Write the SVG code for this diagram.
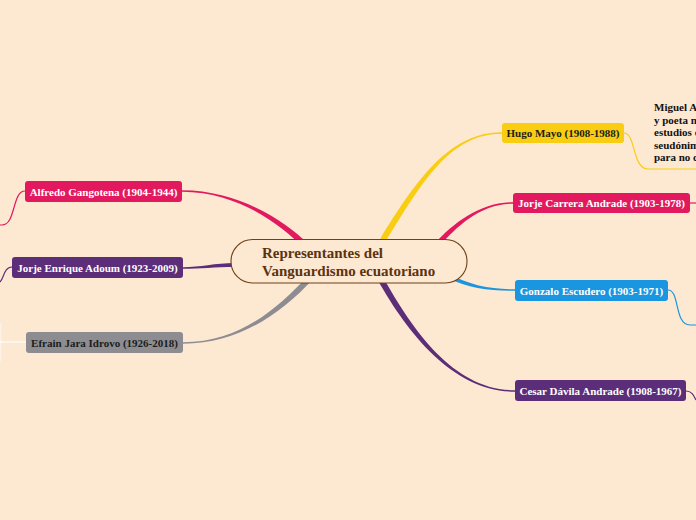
<svg xmlns="http://www.w3.org/2000/svg" width="696" height="520" viewBox="0 0 696 520">
<style>
.lbl{font-family:"Liberation Serif","Times New Roman",serif;font-weight:bold;font-size:11px;text-anchor:middle}
.w{fill:#ffffff}
.d{fill:#1c1c1c}
.note{font-family:"Liberation Serif","Times New Roman",serif;font-weight:bold;font-size:11px;fill:#111111}
.thin{fill:none;stroke-width:1.2}
.ctr{font-family:"Liberation Serif","Times New Roman",serif;font-weight:bold;font-size:15px;fill:#5c3310}
</style>
<rect x="0" y="0" width="696" height="520" fill="#fde8d2"/>
<g id="connectors">
  <path d="M385.6,241.6 C422.6,181.6 450,133.75 502,133.75 L502,132.25 C450,132.25 417.4,178.4 380.4,238.4 Z" fill="#f8cd12"/>
  <path d="M438.9,246.7 C456.9,226.7 480,203.75 513,203.75 L513,202.25 C480,202.25 453.1,223.3 435.1,243.3 Z" fill="#e2195e"/>
  <path d="M447.1,277.8 C469.1,288.8 490,290.75 515,290.75 L515,289.25 C490,289.25 470.9,285.2 448.9,274.2 Z" fill="#1a96e0"/>
  <path d="M377.4,279.5 C409.4,336.5 455,391.75 515,391.75 L515,390.25 C455,390.25 414.6,333.5 382.6,276.5 Z" fill="#5c2d78"/>
  <path d="M307.1,242.9 C287.1,222.9 240,190.25 182,190.25 L182,191.75 C240,191.75 282.9,227.1 302.9,247.1 Z" fill="#e2195e"/>
  <path d="M235,263 C215,263 200,267.25 183,267.25 L183,268.75 C200,268.75 215,267 235,267 Z" fill="#5c2d78"/>
  <path d="M312.2,280 C282.2,312.1 240,343.75 183,343.75 L183,342.25 C240,342.25 277.8,307.9 307.8,275.9 Z" fill="#8d8d91"/>
  <path class="thin" d="M624,133 C636,133 632,169 648,169 L696,169" stroke="#f8cd12"/>
  <path class="thin" d="M690,203 L696,203" stroke="#e2195e"/>
  <path class="thin" d="M668,290 C680,290 674,325 690,325 L696,325" stroke="#1a96e0"/>
  <path class="thin" d="M686,391 C692,391 694,396 696,400" stroke="#5c2d78"/>
  <path class="thin" d="M25,191 C12,191 16,225 2,225 L0,225" stroke="#e2195e"/>
  <path class="thin" d="M12,267 C4,267 4,278 0,282" stroke="#5c2d78"/>
  <path class="thin" d="M26,342 L0,342" stroke="#ffffff"/>
</g>
<rect x="-20" y="322" width="21.5" height="40" rx="3" fill="#ffffff" fill-opacity="0.45"/>
<g id="central">
  <rect x="231" y="239.5" width="236" height="43.5" rx="21.5" fill="#fde8d2" stroke="#6e4118" stroke-width="1.1"/>
  <text class="ctr" x="262" y="258">Representantes del</text>
  <text class="ctr" x="262" y="276">Vanguardismo ecuatoriano</text>
</g>
<g id="hugo">
  <rect x="502" y="123" width="122" height="20" rx="3" fill="#f8cd12"/>
  <text class="lbl d" x="563" y="137">Hugo Mayo (1908-1988)</text>
</g>
<g id="note">
  <text class="note" x="654" y="111">Miguel A</text>
  <text class="note" x="654" y="124">y poeta n</text>
  <text class="note" x="654" y="136">estudios c</text>
  <text class="note" x="654" y="149">seudónim</text>
  <text class="note" x="654" y="161">para no c</text>
</g>
<g id="carrera">
  <rect x="513" y="193" width="177" height="20" rx="3" fill="#e2195e"/>
  <text class="lbl w" x="601.5" y="207">Jorje Carrera Andrade (1903-1978)</text>
</g>
<g id="gonzalo">
  <rect x="515" y="280" width="153" height="21" rx="3" fill="#1a96e0"/>
  <text class="lbl w" x="591.5" y="294.5">Gonzalo Escudero (1903-1971)</text>
</g>
<g id="cesar">
  <rect x="515" y="380" width="171" height="21" rx="3" fill="#5c2d78"/>
  <text class="lbl w" x="600.5" y="394.5">Cesar Dávila Andrade (1908-1967)</text>
</g>
<g id="alfredo">
  <rect x="25" y="181" width="157" height="21" rx="3" fill="#e2195e"/>
  <text class="lbl w" x="103.5" y="195.5">Alfredo Gangotena (1904-1944)</text>
</g>
<g id="adoum">
  <rect x="12" y="257" width="171" height="21" rx="3" fill="#5c2d78"/>
  <text class="lbl w" x="97.5" y="271.5">Jorje Enrique Adoum (1923-2009)</text>
</g>
<g id="efrain">
  <rect x="26" y="332" width="157" height="21" rx="3" fill="#8d8d91"/>
  <text class="lbl d" x="104.5" y="346.5">Efrain Jara Idrovo (1926-2018)</text>
</g>
</svg>
